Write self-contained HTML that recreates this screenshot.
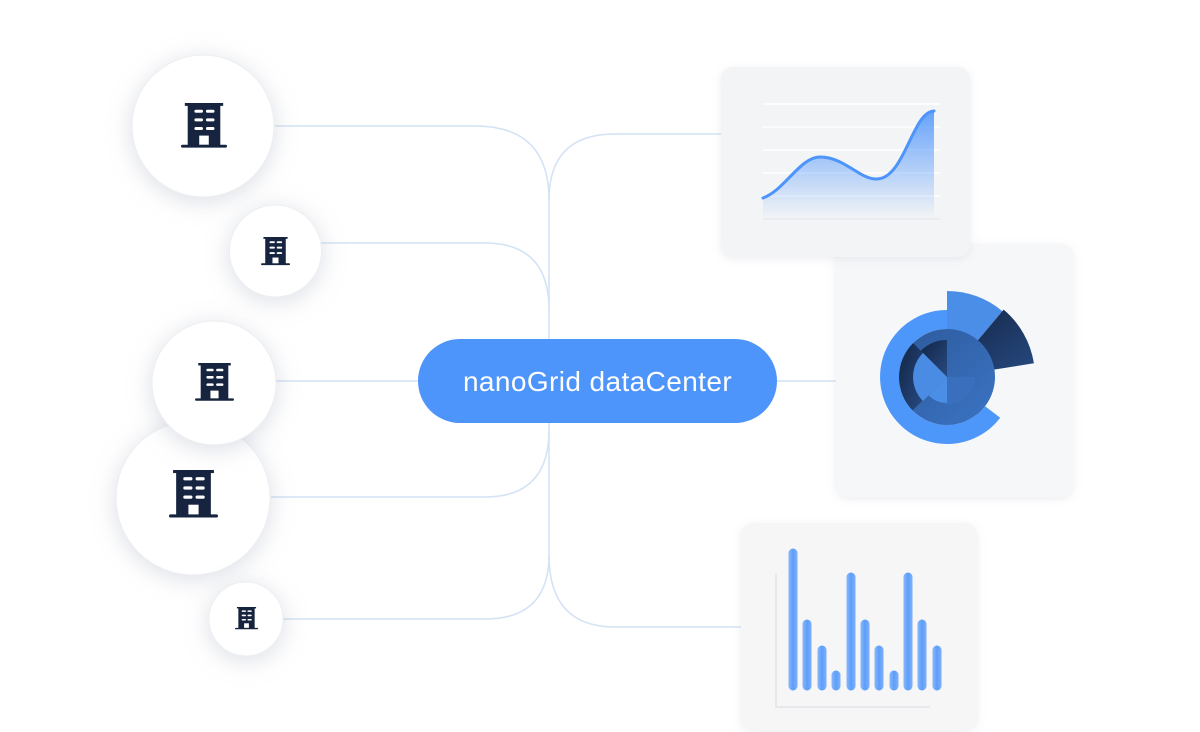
<!DOCTYPE html>
<html><head><meta charset="utf-8"><style>
html,body{margin:0;padding:0;background:#fff;width:1200px;height:732px;overflow:hidden;font-family:"Liberation Sans",sans-serif}
</style></head><body>
<svg width="1200" height="732" viewBox="0 0 1200 732" xmlns="http://www.w3.org/2000/svg">
<defs>
<filter id="sh" x="-50%" y="-50%" width="200%" height="200%"><feDropShadow dx="0" dy="4" stdDeviation="12" flood-color="#9aa3b5" flood-opacity="0.35"/></filter>
<filter id="cs" x="-20%" y="-20%" width="140%" height="140%"><feDropShadow dx="0" dy="2" stdDeviation="4" flood-color="#b0b6c2" flood-opacity="0.25"/></filter>
<linearGradient id="area" x1="0" y1="0" x2="0" y2="1"><stop offset="0" stop-color="#4d94fb" stop-opacity="0.85"/><stop offset="1" stop-color="#4d94fb" stop-opacity="0"/></linearGradient>
<linearGradient id="bar" x1="0" y1="0" x2="1" y2="0"><stop offset="0" stop-color="#8ab8fb"/><stop offset="0.5" stop-color="#5d9ef9"/><stop offset="1" stop-color="#7fb0fa"/></linearGradient>
<linearGradient id="dk" x1="0" y1="0" x2="1" y2="1"><stop offset="0" stop-color="#132544"/><stop offset="1" stop-color="#274a82"/></linearGradient>
<linearGradient id="md" x1="0" y1="0" x2="1" y2="1"><stop offset="0" stop-color="#2d5a9c"/><stop offset="1" stop-color="#3b74c4"/></linearGradient>
<symbol id="bld" viewBox="0 0 48 48">
<rect x="4" y="0" width="40" height="3" fill="#16243f"/>
<rect x="7" y="2" width="34" height="43" fill="#16243f"/>
<rect x="0" y="43.5" width="48" height="3" rx="1.5" fill="#16243f"/>
<g fill="#fff"><rect x="14" y="7" width="9" height="3.2" rx="1.6"/><rect x="26" y="7" width="9" height="3.2" rx="1.6"/>
<rect x="14" y="16" width="9" height="3.2" rx="1.6"/><rect x="26" y="16" width="9" height="3.2" rx="1.6"/>
<rect x="14" y="25" width="9" height="3.2" rx="1.6"/><rect x="26" y="25" width="9" height="3.2" rx="1.6"/>
<rect x="19" y="34" width="10" height="9.5"/></g>
</symbol>
</defs>

<g fill="none" stroke="#d3e2f5" stroke-width="1.5">
<path d="M275,126 H475 Q549,126 549,200"/>
<path d="M321,243 H485 Q549,243 549,310"/>
<path d="M276,381 H418"/>
<path d="M271,497 H485 Q549,497 549,430"/>
<path d="M283,619 H485 Q549,619 549,555"/>
<path d="M549,195 V560"/>
<path d="M549,200 Q549,134 615,134 H721"/>
<path d="M549,555 Q549,627 615,627 H741"/>
<path d="M777,381 H836"/>
</g>

<g fill="#fff" stroke="#eceef2" stroke-width="1">
<circle cx="203" cy="126" r="71" filter="url(#sh)"/>
<circle cx="275.5" cy="251" r="46" filter="url(#sh)"/>
<circle cx="193" cy="498" r="77" filter="url(#sh)"/>
<circle cx="214" cy="383" r="62" filter="url(#sh)"/>
<circle cx="246" cy="619" r="37" filter="url(#sh)"/>
</g>
<use href="#bld" x="181" y="103" width="46" height="46"/>
<use href="#bld" x="261" y="237" width="29" height="29"/>
<use href="#bld" x="195" y="363" width="39" height="39"/>
<use href="#bld" x="169" y="470" width="49" height="49"/>
<use href="#bld" x="235" y="607" width="23" height="23"/>

<rect x="418" y="339" width="359" height="84" rx="42" fill="#4d94fb"/>
<text x="597.5" y="391" text-anchor="middle" font-size="28" letter-spacing="0.4" fill="#fff" font-family="Liberation Sans, sans-serif">nanoGrid dataCenter</text>

<rect x="836" y="244" width="237" height="253" rx="12" fill="#f6f7f9" filter="url(#cs)"/>
<path d="M947,377 L947,291 A86,86 0 0 1 1002.3,311.1 Z" fill="#4a8ee8"/>
<path d="M947,377 L1003.6,309.6 A88,88 0 0 1 1033.9,363.3 Z" fill="url(#dk)"/>
<path d="M1000.2,417.8 A67,67 0 1 1 947,310 L947,329 A48,48 0 1 0 985.1,406.2 Z" fill="#4d97fb"/>
<circle cx="947" cy="377" r="48" fill="url(#md)"/>
<path d="M912.5,410.4 A48,48 0 0 1 913.1,343.1 L923,353 A34,34 0 0 0 922.6,400.6 Z" fill="url(#dk)"/>
<path d="M947,377 L920.8,350.8 A37,37 0 0 1 947,340 Z" fill="url(#dk)"/>
<path d="M947,377 L923,401 A34,34 0 0 1 923,353 Z" fill="#4a8be3"/>
<path d="M947,377 L947,403 A26,26 0 0 1 928.6,395.4 Z" fill="#4a8ee6"/>
<path d="M947,377 L975,377 A28,28 0 0 1 947,405 Z" fill="#3a6fbd"/>

<rect x="721" y="67" width="249" height="190" rx="12" fill="#f3f4f6" filter="url(#cs)"/>
<g stroke="#ffffff" stroke-width="1.5">
<line x1="763" y1="104" x2="940" y2="104"/><line x1="763" y1="127" x2="940" y2="127"/>
<line x1="763" y1="150" x2="940" y2="150"/><line x1="763" y1="173" x2="940" y2="173"/>
<line x1="763" y1="196" x2="940" y2="196"/></g>
<line x1="763" y1="219" x2="940" y2="219" stroke="#e3e5ea" stroke-width="1"/>
<path d="M763,198 C785,190 800,157 820,157 C845,157 860,180 877,179 C905,178 912,112 934,111 L934,219 L763,219 Z" fill="url(#area)"/>
<path d="M763,198 C785,190 800,157 820,157 C845,157 860,180 877,179 C905,178 912,112 934,111" fill="none" stroke="#4d94fb" stroke-width="3" stroke-linecap="round"/>

<rect x="741" y="523" width="236" height="207" rx="12" fill="#f6f6f7" filter="url(#cs)"/>
<path d="M776,573 V707 H930" fill="none" stroke="#e2e4e8" stroke-width="1.5"/>
<g fill="url(#bar)">
<rect x="788.5" y="548.5" width="9" height="142" rx="4.5"/>
<rect x="802.5" y="619.5" width="9" height="71" rx="4.5"/>
<rect x="817.5" y="645.5" width="9" height="45" rx="4.5"/>
<rect x="831.5" y="670.5" width="9" height="20" rx="4.5"/>
<rect x="846.5" y="572.5" width="9" height="118" rx="4.5"/>
<rect x="860.5" y="619.5" width="9" height="71" rx="4.5"/>
<rect x="874.5" y="645.5" width="9" height="45" rx="4.5"/>
<rect x="889.5" y="670.5" width="9" height="20" rx="4.5"/>
<rect x="903.5" y="572.5" width="9" height="118" rx="4.5"/>
<rect x="917.5" y="619.5" width="9" height="71" rx="4.5"/>
<rect x="932.5" y="645.5" width="9" height="45" rx="4.5"/>
</g>
</svg>
</body></html>
